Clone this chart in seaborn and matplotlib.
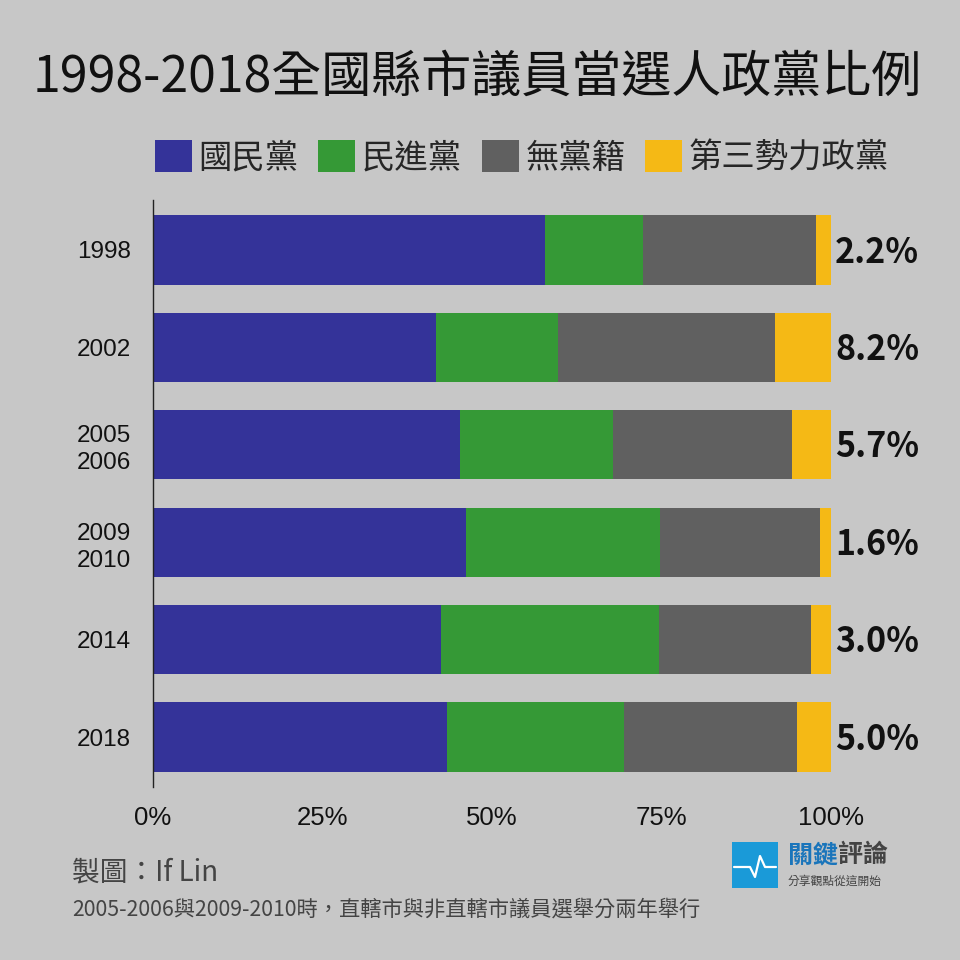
import numpy as np
import pandas as pd
import matplotlib
matplotlib.use("Agg")
import matplotlib.pyplot as plt
from matplotlib.patches import Patch, Rectangle
from matplotlib.lines import Line2D
import seaborn as sns

# data (percent of seats won)
years = ["1998", "2002", "2005\n2006", "2009\n2010", "2014", "2018"]
kmt = [57.8, 41.7, 45.3, 46.2, 42.5, 43.4]
dpp = [14.5, 18.0, 22.5, 28.6, 32.1, 26.1]
indep = [25.5, 32.1, 26.5, 23.6, 22.4, 25.5]
third = [2.2, 8.2, 5.7, 1.6, 3.0, 5.0]
parties = ["國民黨", "民進黨", "無黨籍", "第三勢力政黨"]
colors = ["#343399", "#359936", "#606060", "#f5b915"]
x_ticks = [0, 25, 50, 75, 100]

bg = "#c7c7c7"
sns.set_theme(style="white")
plt.rcParams["font.family"] = ["Noto Sans CJK TC", "DejaVu Sans"]

df = pd.DataFrame({"year": years, "kmt": kmt, "dpp": dpp, "ind": indep, "third": third})
# cumulative ends for stacking
df["c1"] = df["kmt"]
df["c2"] = df["c1"] + df["dpp"]
df["c3"] = df["c2"] + df["ind"]
df["c4"] = df["c3"] + df["third"]

fig = plt.figure(figsize=(9.6, 9.6), dpi=100, facecolor=bg)
ax = fig.add_axes([153 / 960, 1 - 787 / 960, 678 / 960, 587 / 960])
ax.set_facecolor(bg)

for col, c in zip(["c4", "c3", "c2", "c1"], colors[::-1]):
    sns.barplot(data=df, x=col, y="year", color=c, orient="h", width=0.71,
                saturation=1, ax=ax, linewidth=0)

ax.set_xlim(0, 100)
ax.set_ylim(5.513, -0.513)
ax.set_xlabel("")
ax.set_ylabel("")
ax.set_xticks(x_ticks)
ax.set_xticklabels([f"{t}%" for t in x_ticks], family="Liberation Sans", fontsize=18.5)
ax.set_yticks(range(len(years)))
ax.set_yticklabels(years, family="Liberation Sans", fontsize=17.5, linespacing=1.3)
ax.tick_params(axis="x", length=0, pad=14, colors="#111111")
ax.tick_params(axis="y", length=0, pad=16, colors="#111111")
for s in ["top", "right", "bottom"]:
    ax.spines[s].set_visible(False)
ax.spines["left"].set_color("#222222")
ax.spines["left"].set_linewidth(1)

for i, v in enumerate(third):
    ax.annotate(f"{v:.1f}%", xy=(100, i), xytext=(3, -1.5), textcoords="offset points",
                ha="left", va="center", fontsize=24.5, fontweight="bold", color="#111111")

fig.text(0.497, 1 - 78 / 960, "1998-2018全國縣市議員當選人政黨比例", ha="center", va="center",
         fontsize=36, color="#111111")

handles = [Patch(facecolor=c, edgecolor="none", label=p) for p, c in zip(parties, colors)]
fig.legend(handles=handles, loc="center", bbox_to_anchor=(522 / 960, 1 - 158 / 960), ncol=4,
           frameon=False, handlelength=1.1, handleheight=1.1,
           handletextpad=0.2, columnspacing=0.6, borderaxespad=0,
           prop={"size": 24})

fig.text(72 / 960, 1 - 872 / 960, "製圖：If Lin", ha="left", va="center", fontsize=20,
         color="#444444")
fig.text(72 / 960, 1 - 910 / 960, "2005-2006與2009-2010時，直轄市與非直轄市議員選舉分兩年舉行",
         ha="left", va="center", fontsize=15.3, color="#444444")

# logo
fig.add_artist(Rectangle((732 / 960, 1 - 888 / 960), 46 / 960, 46 / 960, transform=fig.transFigure,
                         facecolor="#1a9ad8", edgecolor="none"))
px = np.array([734, 750, 755, 760, 765, 776]) / 960
py = 1 - np.array([867, 867, 877, 856, 867, 867]) / 960
fig.add_artist(Line2D(px, py, transform=fig.transFigure, color="white", linewidth=1.6))
fig.text(788 / 960, 1 - 855 / 960, "關鍵", ha="left", va="center", fontsize=18, fontweight="bold",
         color="#1a75bb")
fig.text(838 / 960, 1 - 855 / 960, "評論", ha="left", va="center", fontsize=18, fontweight="bold",
         color="#444444")
fig.text(788 / 960, 1 - 881 / 960, "分享觀點從這開始", ha="left", va="center", fontsize=8.5,
         color="#444444")

fig.savefig("out.png", dpi=100, facecolor=bg)
